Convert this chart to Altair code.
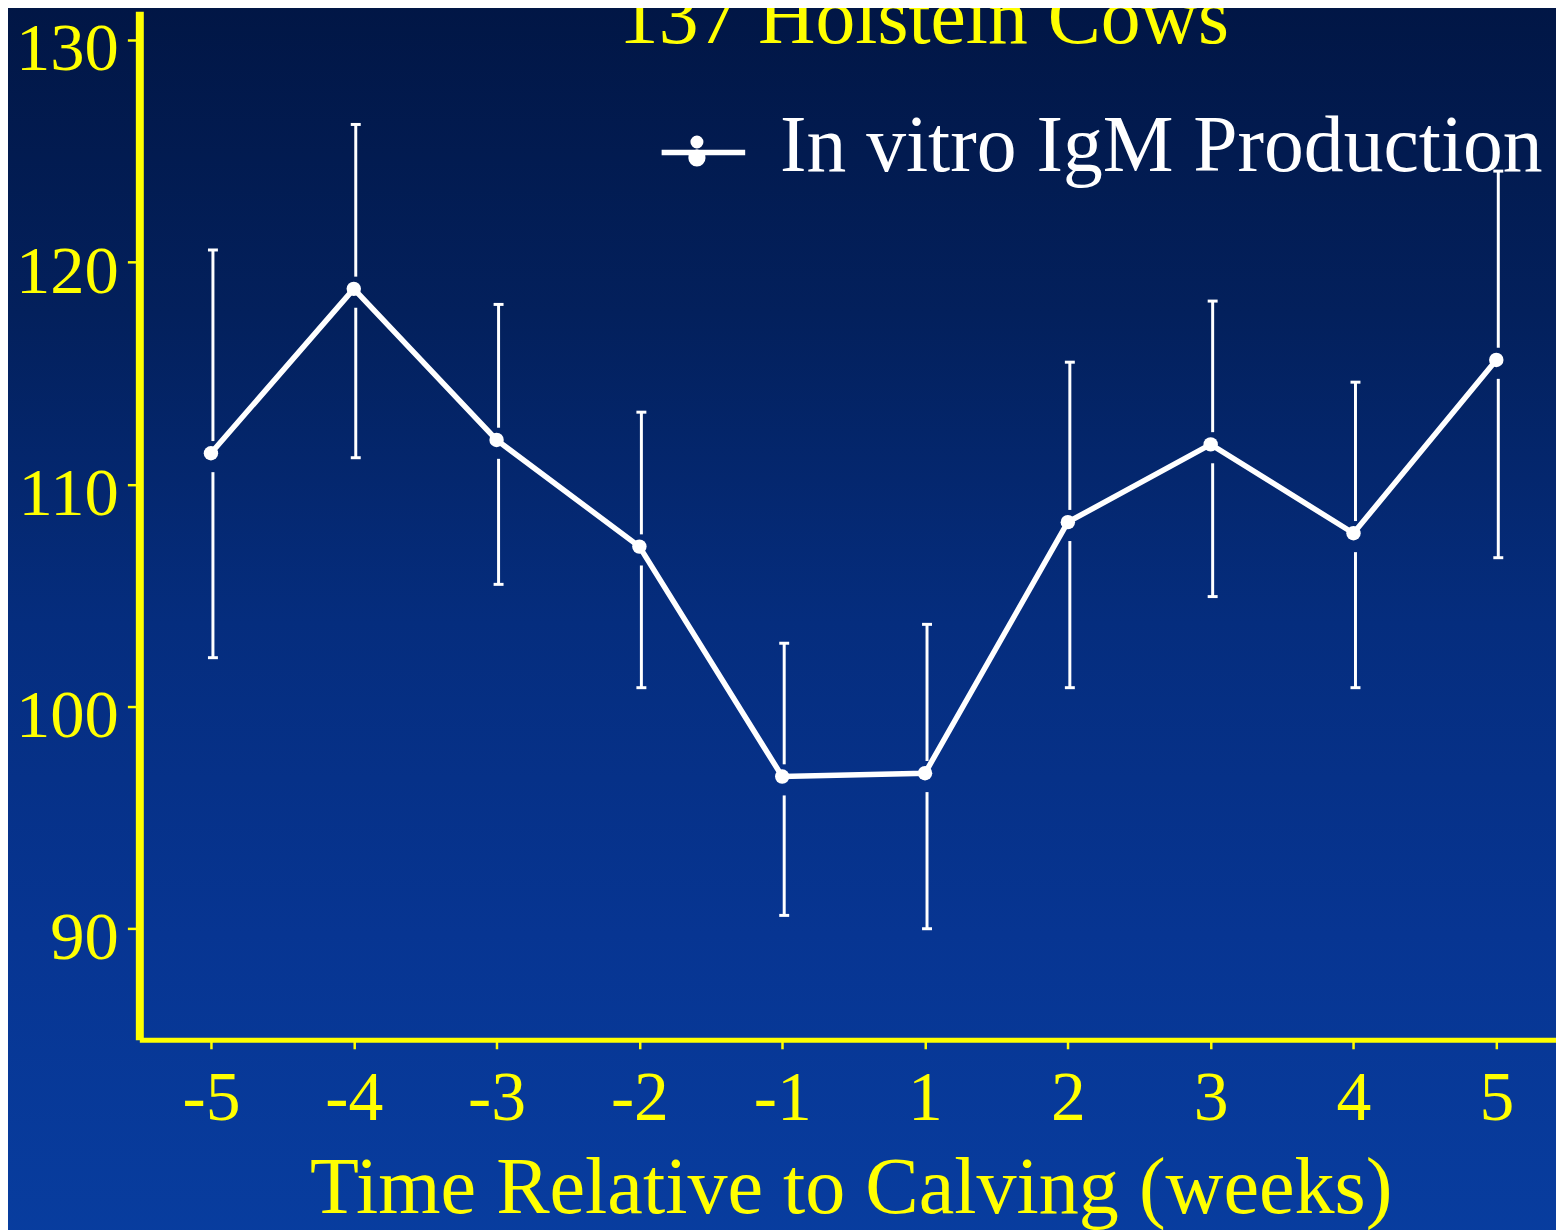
import json
import altair as alt
import pandas as pd

# ---- data ----
weeks = ["-5", "-4", "-3", "-2", "-1", "1", "2", "3", "4", "5"]
igm_mean = [111.4, 118.8, 112.0, 107.2, 96.85, 97.0, 108.3, 111.8, 107.8, 115.6]
igm_upper = [120.55, 126.2, 118.1, 113.25, 102.85, 103.7, 115.5, 118.25, 114.6, 124.1]
igm_lower = [102.2, 111.2, 105.5, 100.85, 90.6, 90.0, 100.85, 104.95, 100.85, 106.7]
y_ticks = [90, 100, 110, 120, 130]
series_name = "In vitro IgM Production"
title_text = "137 Holstein Cows"
x_title = "Time Relative to Calving (weeks)"

df = pd.DataFrame({
    "week": weeks,
    "pos": list(range(len(weeks))),
    "mean": igm_mean,
    "upper": igm_upper,
    "lower": igm_lower,
    "series": [series_name] * len(weeks),
})

YELLOW = "#ffff00"
FONT = "Liberation Serif"

x_scale = alt.Scale(domain=[-0.5015, 9.418], nice=False, zero=False)
y_scale = alt.Scale(domain=[85, 131.3], nice=False, zero=False)

x_axis = alt.Axis(
    values=list(range(len(weeks))),
    labelExpr=f"{json.dumps(weeks)}[datum.value]",
    title=x_title,
    grid=False, zindex=2,
    domainColor=YELLOW, domainWidth=5,
    tickColor=YELLOW, tickWidth=2.5, tickSize=9,
    labelFont=FONT, labelFontSize=70, labelColor=YELLOW,
    labelBaseline="alphabetic", labelPadding=71,
    labelFlush=False, labelOverlap=False,
    titleFont=FONT, titleFontSize=80.5, titleColor=YELLOW, titleFontWeight="normal",
    titleBaseline="alphabetic", titleY=174, titleX=715,
)
y_axis = alt.Axis(
    values=y_ticks,
    title=None,
    grid=False, zindex=2,
    domainColor=YELLOW, domainWidth=8,
    tickColor=YELLOW, tickWidth=2.5, tickSize=12,
    labelFont=FONT, labelFontSize=69, labelColor=YELLOW,
    labelBaseline="alphabetic", labelOffset=30, labelPadding=9,
    labelFlush=False, labelOverlap=False,
)


def X():
    return alt.X("pos:Q", scale=x_scale, axis=x_axis)


def Y(field):
    return alt.Y(f"{field}:Q", scale=y_scale, axis=y_axis)


# background gradient
bg = alt.Chart(pd.DataFrame({"k": [0]})).mark_rect(
    fill=alt.Gradient(
        gradient="linear",
        stops=[
            alt.GradientStop(offset=0, color="#011645"),
            alt.GradientStop(offset=0.25, color="#03205c"),
            alt.GradientStop(offset=0.5, color="#052d7e"),
            alt.GradientStop(offset=0.75, color="#073592"),
            alt.GradientStop(offset=1, color="#083d9f"),
        ],
        x1=0, x2=0, y1=0, y2=1,
    )
).encode(
    x=alt.value(-140), x2=alt.value(1440), y=alt.value(-10), y2=alt.value(1240)
)

# chart title (partly cut at the top edge, as in the reference)
title = alt.Chart(pd.DataFrame({"t": [title_text]})).mark_text(
    font=FONT, fontSize=80, color=YELLOW, align="left", baseline="alphabetic"
).encode(text="t:N", x=alt.value(482), y=alt.value(32))

base = alt.Chart(df)

up_seg = base.transform_calculate(ya="datum.mean + 0.55").mark_rule(
    color="white", strokeWidth=3, xOffset=2
).encode(x=X(), y=Y("upper"), y2="ya:Q")

lo_seg = base.transform_calculate(yb="datum.mean - 0.85").mark_rule(
    color="white", strokeWidth=3, xOffset=2
).encode(x=X(), y=Y("lower"), y2="yb:Q")

caps = base.transform_fold(["upper", "lower"], as_=["which", "val"]).mark_tick(
    orient="horizontal", size=10, thickness=3, color="white", xOffset=2, opacity=1
).encode(x=X(), y=Y("val"))

legend_path = (
    "M-1,0.12H1"
    "M-0.065,-0.13A0.09,0.09,0,1,1,-0.245,-0.13A0.09,0.09,0,1,1,-0.065,-0.13Z"
    "M-0.015,0.25A0.14,0.14,0,1,1,-0.295,0.25A0.14,0.14,0,1,1,-0.015,0.25Z"
)

line = base.mark_line(color="white", strokeWidth=5.5).encode(
    x=X(),
    y=Y("mean"),
    color=alt.Color(
        "series:N",
        scale=alt.Scale(range=["white"]),
        legend=alt.Legend(
            title=None, orient="none", legendX=522, legendY=92, padding=0,
            labelFont=FONT, labelFontSize=80, labelColor="white",
            labelOffset=32, labelLimit=3000,
            symbolType=legend_path, symbolSize=7056,
            symbolStrokeWidth=5.5, symbolStrokeColor="white",
            symbolFillColor="white", symbolOpacity=1,
        ),
    ),
)

pts = base.mark_circle(size=210, color="white", opacity=1).encode(
    x=X(), y=Y("mean")
)

chart = alt.layer(bg, title, up_seg, lo_seg, caps, line, pts).properties(
    width=1424,
    height=1034,
    autosize="none",
    padding={"left": 132, "top": 0, "right": 0, "bottom": 188},
).configure(background="#03205e").configure_view(stroke=None)

chart.save("out.html", embed_options={"renderer": "svg", "actions": False})
